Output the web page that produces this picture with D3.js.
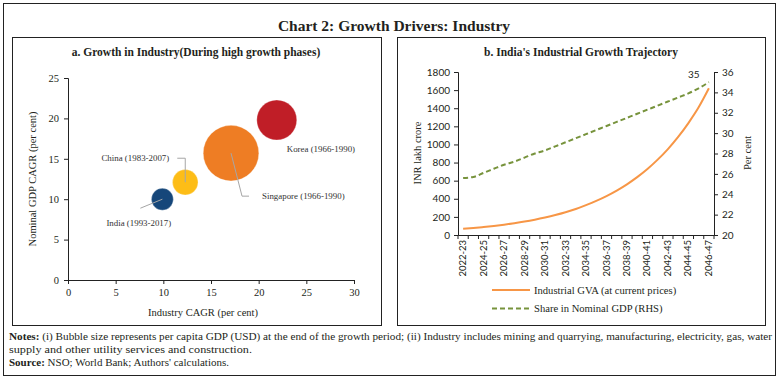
<!DOCTYPE html>
<html><head><meta charset="utf-8">
<script src="https://cdn.jsdelivr.net/npm/d3@7"></script>
<style>
body{margin:0;background:#fff;}
svg{display:block;}
</style></head>
<body>
<svg id="c" width="779" height="379"></svg>
<script>
// ---------- DATA ----------
const countries = ["India (1993-2017)", "China (1983-2007)", "Singapore (1966-1990)", "Korea (1966-1990)"];
const industryCAGR = [9.9, 12.3, 17.1, 21.9];
const gdpCAGR = [10.0, 12.1, 15.7, 19.8];
const perCapitaGDP = [1981, 2694, 12763, 6610];
const bubbleColors = ["#16477a", "#fdbd17", "#ee7d24", "#c01e27"];
const xTicksA = [0, 5, 10, 15, 20, 25, 30];
const yTicksA = [0, 5, 10, 15, 20, 25];

const years = ["2022-23","2023-24","2024-25","2025-26","2026-27","2027-28","2028-29","2029-30","2030-31","2031-32","2032-33","2033-34","2034-35","2035-36","2036-37","2037-38","2038-39","2039-40","2040-41","2041-42","2042-43","2043-44","2044-45","2045-46","2046-47"];
const industrialGVA = [68, 77, 88, 100, 114, 130, 148, 169, 193, 220, 251, 287, 330, 377, 430, 491, 560, 639, 729, 832, 949, 1083, 1236, 1410, 1620];
const shareGDP = [25.6, 25.7, 26.1, 26.5, 26.9, 27.2, 27.6, 28.0, 28.3, 28.7, 29.1, 29.5, 29.9, 30.3, 30.7, 31.1, 31.5, 31.9, 32.3, 32.7, 33.1, 33.5, 33.9, 34.4, 35.0];
const leftTicksB = [0, 200, 400, 600, 800, 1000, 1200, 1400, 1600, 1800];
const rightTicksB = [20, 22, 24, 26, 28, 30, 32, 34, 36];
const seriesNames = ["Industrial GVA (at current prices)", "Share in Nominal GDP (RHS)"];

// ---------- DRAW ----------
const svg = d3.select("#c");
const serif = "'Liberation Serif', 'DejaVu Serif', serif";
const sans = "Lato, 'Liberation Sans', sans-serif";
const txt = "#231f20";

svg.append("rect").attr("x",3.5).attr("y",3.5).attr("width",772).attr("height",372)
  .attr("fill","none").attr("stroke","#222").attr("stroke-width",1);
svg.append("text").attr("x",394).attr("y",31).attr("text-anchor","middle")
  .attr("font-family",serif).attr("font-weight","bold").attr("font-size",15.5).attr("fill",txt)
  .text("Chart 2: Growth Drivers: Industry");

// panel frames
svg.append("rect").attr("x",12.5).attr("y",37.5).attr("width",369).attr("height",288)
  .attr("fill","none").attr("stroke","#222").attr("stroke-width",1);
svg.append("rect").attr("x",397.5).attr("y",37.5).attr("width",368).attr("height",288)
  .attr("fill","none").attr("stroke","#222").attr("stroke-width",1);

// ----- Panel a -----
const ga = svg.append("g");
ga.append("text").attr("x",196).attr("y",56).attr("text-anchor","middle")
  .attr("font-family",serif).attr("font-weight","bold").attr("font-size",11.5).attr("fill",txt)
  .text("a. Growth in Industry(During high growth phases)");

const xA = d3.scaleLinear().domain([0,30]).range([68,354]);
const yA = d3.scaleLinear().domain([0,25]).range([280,78]);
const rA = d3.scaleSqrt().domain([0, d3.max(perCapitaGDP)]).range([0, 27.8]);

const axA = ga.append("g").attr("transform","translate(0,280)")
  .call(d3.axisBottom(xA).tickValues(xTicksA).tickSize(4).tickPadding(5));
const ayA = ga.append("g").attr("transform","translate(68,0)")
  .call(d3.axisLeft(yA).tickValues(yTicksA).tickSize(4).tickPadding(5));
[axA, ayA].forEach(a=>{
  a.select(".domain").attr("stroke","#222");
  a.selectAll(".tick line").attr("stroke","#222");
  a.selectAll(".tick text").attr("font-family",serif).attr("font-size",10.5).attr("fill",txt);
});
ga.append("text").attr("x",203).attr("y",316).attr("text-anchor","middle")
  .attr("font-family",serif).attr("font-size",10.5).attr("fill",txt).text("Industry CAGR (per cent)");
ga.append("text").attr("transform","translate(36,179) rotate(-90)").attr("text-anchor","middle")
  .attr("font-family",serif).attr("font-size",10.5).attr("fill",txt).text("Nominal GDP CAGR (per cent)");

const bubbles = countries.map((c,i)=>({name:c, x:industryCAGR[i], y:gdpCAGR[i], v:perCapitaGDP[i], col:bubbleColors[i]}));
ga.selectAll("circle.b").data(bubbles.slice().sort((a,b)=>b.v-a.v)).enter().append("circle")
  .attr("cx",d=>xA(d.x)).attr("cy",d=>yA(d.y)).attr("r",d=>rA(d.v))
  .attr("fill",d=>d.col).attr("stroke","#fff").attr("stroke-opacity",0.5).attr("stroke-width",0.6);

// label layout (pixel offsets relative to bubble centre)
const labelLayout = [
  {leader:[[0,0],[-22,9]], tx:-56, ty:27, anchor:"start"},
  {leader:[[0,0],[0,-24],[-8,-24]], tx:-16, ty:-21, anchor:"end"},
  {leader:[[0,0],[11,43],[18,43]], tx:31, ty:46, anchor:"start"},
  {leader:null, tx:10, ty:32, anchor:"start"}
];
bubbles.forEach((d,i)=>{
  const cx = xA(d.x), cy = yA(d.y), L = labelLayout[i];
  if (L.leader) {
    ga.append("path").attr("d", d3.line()(L.leader.map(p=>[cx+p[0], cy+p[1]])))
      .attr("fill","none").attr("stroke","#a6a6a6").attr("stroke-width",1);
  }
  ga.append("text").attr("x",cx+L.tx).attr("y",cy+L.ty).attr("text-anchor",L.anchor)
    .attr("font-family",serif).attr("font-size",8.9).attr("fill","#333").text(d.name);
});

// ----- Panel b -----
const gb = svg.append("g");
gb.append("text").attr("x",581).attr("y",56).attr("text-anchor","middle")
  .attr("font-family",serif).attr("font-weight","bold").attr("font-size",11.5).attr("fill",txt)
  .text("b. India's Industrial Growth Trajectory");

const xB = d3.scaleBand().domain(years).range([458,714]);
const yL = d3.scaleLinear().domain([0,1800]).range([235,72]);
const yR = d3.scaleLinear().domain([20,36]).range([235,72]);

const ayL = gb.append("g").attr("transform","translate(458,0)")
  .call(d3.axisLeft(yL).tickValues(leftTicksB).tickFormat(d3.format("d")).tickSize(4).tickPadding(4));
const ayR = gb.append("g").attr("transform","translate(714,0)")
  .call(d3.axisRight(yR).tickValues(rightTicksB).tickFormat(d3.format("d")).tickSize(4).tickPadding(4));
const axB = gb.append("g").attr("transform","translate(0,235)")
  .call(d3.axisBottom(xB).tickValues(years.filter((y,i)=>i%2===0)).tickSize(0).tickPadding(4));
[ayL, ayR, axB].forEach(a=>{
  a.select(".domain").attr("stroke","#222");
  a.selectAll(".tick line").attr("stroke","#222");
  a.selectAll(".tick text").attr("font-family",sans).attr("font-size",10).attr("fill",txt);
});
axB.selectAll(".tick text").attr("transform","rotate(-90)").attr("text-anchor","end")
  .attr("dy","0.32em").attr("x",-5).attr("y",0).attr("font-size",9.5);
gb.append("g").selectAll("line").data(d3.range(years.length+1)).enter().append("line")
  .attr("x1",i=>xB.range()[0]+i*xB.step()).attr("x2",i=>xB.range()[0]+i*xB.step())
  .attr("y1",235).attr("y2",239).attr("stroke","#222");

gb.append("text").attr("transform","translate(421,153) rotate(-90)").attr("text-anchor","middle")
  .attr("font-family",serif).attr("font-size",10.5).attr("fill",txt).text("INR lakh crore");
gb.append("text").attr("transform","translate(751,153) rotate(-90)").attr("text-anchor","middle")
  .attr("font-family",serif).attr("font-size",10.5).attr("fill",txt).text("Per cent");

const cx = d=>xB(d)+xB.bandwidth()/2;
gb.append("path").datum(years.map((y,i)=>[cx(y), yL(industrialGVA[i])]))
  .attr("d", d3.line().curve(d3.curveMonotoneX)).attr("fill","none")
  .attr("stroke","#f79646").attr("stroke-width",2);
gb.append("path").datum(years.map((y,i)=>[cx(y), yR(shareGDP[i])]))
  .attr("d", d3.line().curve(d3.curveMonotoneX)).attr("fill","none")
  .attr("stroke","#77933c").attr("stroke-width",2).attr("stroke-dasharray","5,3");
const lastI = years.length-1;
gb.append("text").attr("x",cx(years[lastI])-15).attr("y",yR(shareGDP[lastI])-4).attr("text-anchor","middle")
  .attr("font-family",sans).attr("font-size",10).attr("fill",txt).text(shareGDP[lastI].toFixed(0));

// legend
const leg = gb.append("g");
[0,1].forEach(i=>{
  const y = 290 + i*18.5;
  leg.append("line").attr("x1",492).attr("x2",530).attr("y1",y).attr("y2",y)
    .attr("stroke", i===0?"#f79646":"#77933c").attr("stroke-width",2)
    .attr("stroke-dasharray", i===0?null:"5,3");
  leg.append("text").attr("x",534).attr("y",y+3.5).attr("font-family",serif).attr("font-size",10.6)
    .attr("fill",txt).text(seriesNames[i]);
});

// ----- notes -----
const notes = svg.append("g").attr("font-family",serif).attr("font-size",9.8).attr("fill",txt);
const t1 = notes.append("text").attr("x",9).attr("y",339.5).attr("textLength",763).attr("lengthAdjust","spacingAndGlyphs");
t1.append("tspan").attr("font-weight","bold").text("Notes: ");
t1.append("tspan").text("(i) Bubble size represents per capita GDP (USD) at the end of the growth period; (ii) Industry includes mining and quarrying, manufacturing, electricity, gas, water");
notes.append("text").attr("x",9).attr("y",352.5).attr("textLength",243).attr("lengthAdjust","spacingAndGlyphs")
  .text("supply and other utility services and construction.");
const t3 = notes.append("text").attr("x",9).attr("y",365.5).attr("textLength",220).attr("lengthAdjust","spacingAndGlyphs");
t3.append("tspan").attr("font-weight","bold").text("Source: ");
t3.append("tspan").text("NSO; World Bank; Authors' calculations.");
</script>
</body></html>
